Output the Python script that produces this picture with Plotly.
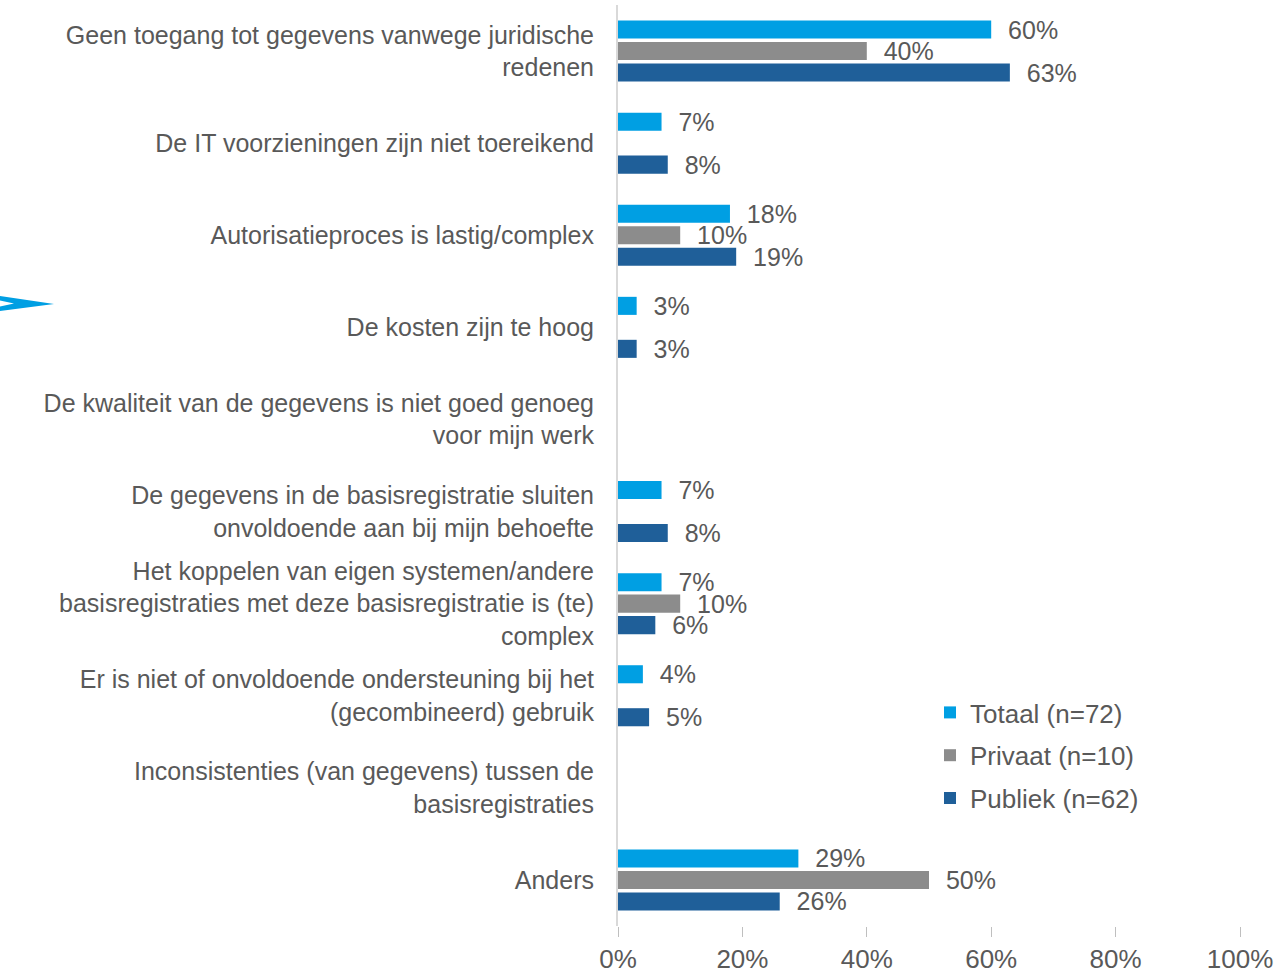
import plotly.graph_objects as go

categories = [
    "Geen toegang tot gegevens vanwege juridische<br>redenen",
    "De IT voorzieningen zijn niet toereikend",
    "Autorisatieproces is lastig/complex",
    "De kosten zijn te hoog",
    "De kwaliteit van de gegevens is niet goed genoeg<br>voor mijn werk",
    "De gegevens in de basisregistratie sluiten<br>onvoldoende aan bij mijn behoefte",
    "Het koppelen van eigen systemen/andere<br>basisregistraties met deze basisregistratie is (te)<br>complex",
    "Er is niet of onvoldoende ondersteuning bij het<br>(gecombineerd) gebruik",
    "Inconsistenties (van gegevens) tussen de<br>basisregistraties",
    "Anders",
]
series_names = ["Totaal (n=72)", "Privaat (n=10)", "Publiek (n=62)"]
totaal = [60, 7, 18, 3, None, 7, 7, 4, None, 29]
privaat = [40, None, 10, None, None, None, 10, None, None, 50]
publiek = [63, 8, 19, 3, None, 8, 6, 5, None, 26]
x_ticks = [0, 20, 40, 60, 80, 100]
x_ticktext = ["0%", "20%", "40%", "60%", "80%", "100%"]

colors = ["#009FE3", "#8C8C8C", "#1F5F99"]
FONT = "Liberation Sans, Arial, sans-serif"
TXT = "#595959"

W, H = 1288, 973
ML, MR, MT, MB = 618, 48, 5, 47

fig = go.Figure()
for i, (name, vals, col) in enumerate(zip(series_names, [totaal, privaat, publiek], colors)):
    fig.add_trace(go.Bar(
        y=categories, x=vals, name=name, orientation="h",
        legendgroup="g%d" % i,
        marker=dict(color=col, line=dict(width=0)),
        text=[("  %d%%" % v) if v is not None else "" for v in vals],
        textposition="outside", cliponaxis=False, constraintext="none",
        textfont=dict(family=FONT, size=25, color=TXT),
    ))

pw = W - ML - MR
ph = H - MT - MB
def px(x):
    return (x - ML) / pw
def py(y):
    return (H - MB - y) / ph

fig.add_shape(type="path", xref="paper", yref="paper",
              path="M %f,%f L %f,%f L %f,%f Z" % (px(0), py(296), px(54), py(304), px(0), py(311)),
              fillcolor="#009FE3", line=dict(width=0), layer="above")
fig.add_shape(type="path", xref="paper", yref="paper",
              path="M %f,%f L %f,%f L %f,%f Z" % (px(0), py(300.5), px(14), py(303.5), px(0), py(306.5)),
              fillcolor="white", line=dict(width=0), layer="above")

fig.update_layout(
    width=W, height=H,
    margin=dict(l=ML, r=MR, t=MT, b=MB, autoexpand=False),
    paper_bgcolor="white", plot_bgcolor="white",
    barmode="group", bargap=0.30, bargroupgap=0.16,
    font=dict(family=FONT, size=25, color=TXT),
    showlegend=True,
    legend=dict(x=px(930), y=py(689), xanchor="left", yanchor="top",
                font=dict(family=FONT, size=26, color=TXT),
                bgcolor="rgba(0,0,0,0)", tracegroupgap=6),
    xaxis=dict(range=[0, 100], tickvals=x_ticks, ticktext=x_ticktext,
               showgrid=False, zeroline=False, showline=False,
               ticks="outside", ticklen=10, tickcolor="#BFBFBF", tickwidth=1,
               tickfont=dict(family=FONT, size=26, color=TXT)),
    yaxis=dict(autorange="reversed", categoryorder="array", categoryarray=categories,
               showline=True, linecolor="#D9D9D9", linewidth=2,
               showgrid=False, ticks="", ticklabelstandoff=17,
               tickfont=dict(family=FONT, size=25, color=TXT)),
)

fig.write_html("out.html", config={"displayModeBar": False},
               post_script="document.body.style.margin='0';")
